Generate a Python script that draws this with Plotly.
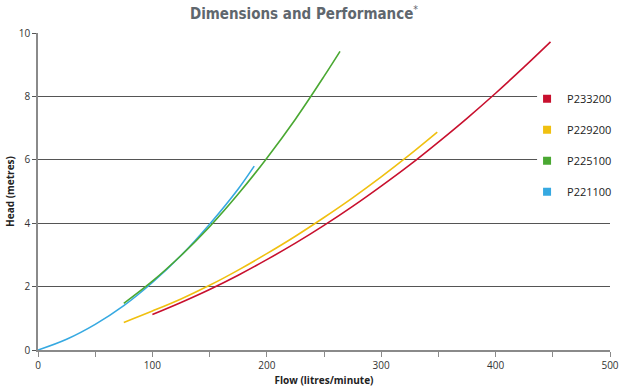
import plotly.graph_objects as go

# Data
flow_p233200 = [100, 125, 150, 175, 200, 225, 250, 275, 300, 325, 350, 375, 400, 425, 448]
head_p233200 = [1.12, 1.50, 1.91, 2.36, 2.85, 3.37, 3.93, 4.53, 5.17, 5.84, 6.56, 7.31, 8.10, 8.93, 9.72]

flow_p229200 = [75, 100, 125, 150, 175, 200, 225, 250, 275, 300, 325, 349]
head_p229200 = [0.87, 1.23, 1.61, 2.04, 2.52, 3.04, 3.59, 4.18, 4.80, 5.46, 6.16, 6.87]

flow_p225100 = [75, 100, 125, 150, 175, 200, 225, 250, 264]
head_p225100 = [1.47, 2.17, 2.98, 3.89, 4.92, 6.05, 7.28, 8.63, 9.42]

flow_p221100 = [0, 25, 50, 75, 100, 125, 150, 175, 189]
head_p221100 = [0, 0.34, 0.81, 1.40, 2.13, 2.98, 3.97, 5.08, 5.80]

series_names = ["P233200", "P229200", "P225100", "P221100"]
series_colors = ["#c8102e", "#f0c010", "#4aa832", "#36a9e1"]
x_tick_values = [0, 100, 200, 300, 400, 500]
y_tick_values = [0, 2, 4, 6, 8, 10]

flows = [flow_p233200, flow_p229200, flow_p225100, flow_p221100]
heads = [head_p233200, head_p229200, head_p225100, head_p221100]

fig = go.Figure()
for i in [3, 2, 1, 0]:
    fig.add_trace(go.Scatter(
        x=flows[i], y=heads[i], mode="lines", name=series_names[i],
        line=dict(color=series_colors[i], width=1.6, shape="spline"),
        showlegend=False, hoverinfo="x+y+name"))

# legend entries with square swatches
for i in range(4):
    fig.add_trace(go.Scatter(
        x=[None], y=[None], mode="markers", name=series_names[i],
        marker=dict(symbol="square", size=8, color=series_colors[i]),
        legendgroup=series_names[i], showlegend=True))

fig.update_layout(
    width=620, height=389,
    margin=dict(l=38, r=10, t=33, b=39, autoexpand=False),
    paper_bgcolor="white", plot_bgcolor="white",
    font=dict(family="Open Sans, Liberation Sans, sans-serif", size=10, color="#333333"),
    title=dict(
        text="<b>Dimensions and Performance</b><sup>*</sup>",
        x=304 / 620, xanchor="center", xref="container",
        y=1 - 14 / 389, yanchor="middle", yref="container",
        font=dict(family="DejaVu Sans Condensed, Roboto, sans-serif", size=15, color="#5f676e")),
    showlegend=True,
    legend=dict(
        x=0.855, y=0.838, xanchor="left", yanchor="top",
        bgcolor="rgba(0,0,0,0)", borderwidth=0,
        font=dict(family="Open Sans, Liberation Sans, sans-serif", size=11, color="#222222"),
        tracegroupgap=12, traceorder="grouped"),
    xaxis=dict(
        range=[0, 500], tickvals=x_tick_values, automargin=False,
        showgrid=False, zeroline=False,
        showline=True, linecolor="#8a8a8a", linewidth=1.5,
        ticks="outside", ticklen=5, tickcolor="#8a8a8a", tickwidth=1,
        minor=dict(dtick=50, ticks="outside", ticklen=5, tickcolor="#8a8a8a", showgrid=False),
        tickfont=dict(size=10, color="#333333"),
        title=dict(text="<b>Flow (litres/minute)</b>", font=dict(size=10, color="#222222"), standoff=6)),
    yaxis=dict(
        range=[0, 10], tickvals=y_tick_values, automargin=False,
        showgrid=True, gridcolor="#555555", gridwidth=1,
        zeroline=False,
        showline=True, linecolor="#8a8a8a", linewidth=1.5,
        ticks="outside", ticklen=4, tickcolor="#555555", tickwidth=1,
        tickfont=dict(size=10, color="#333333"),
        title=dict(text="<b>Head (metres)</b>", font=dict(size=10, color="#222222"), standoff=2)),
    shapes=[dict(type="rect", xref="paper", yref="paper",
                 x0=0.8725, x1=1.0, y0=0.47, y1=0.835,
                 fillcolor="white", line=dict(width=0), layer="above")],
)

fig.write_html("out.html", config={"displayModeBar": False},
               post_script="document.body.style.margin='0';")
